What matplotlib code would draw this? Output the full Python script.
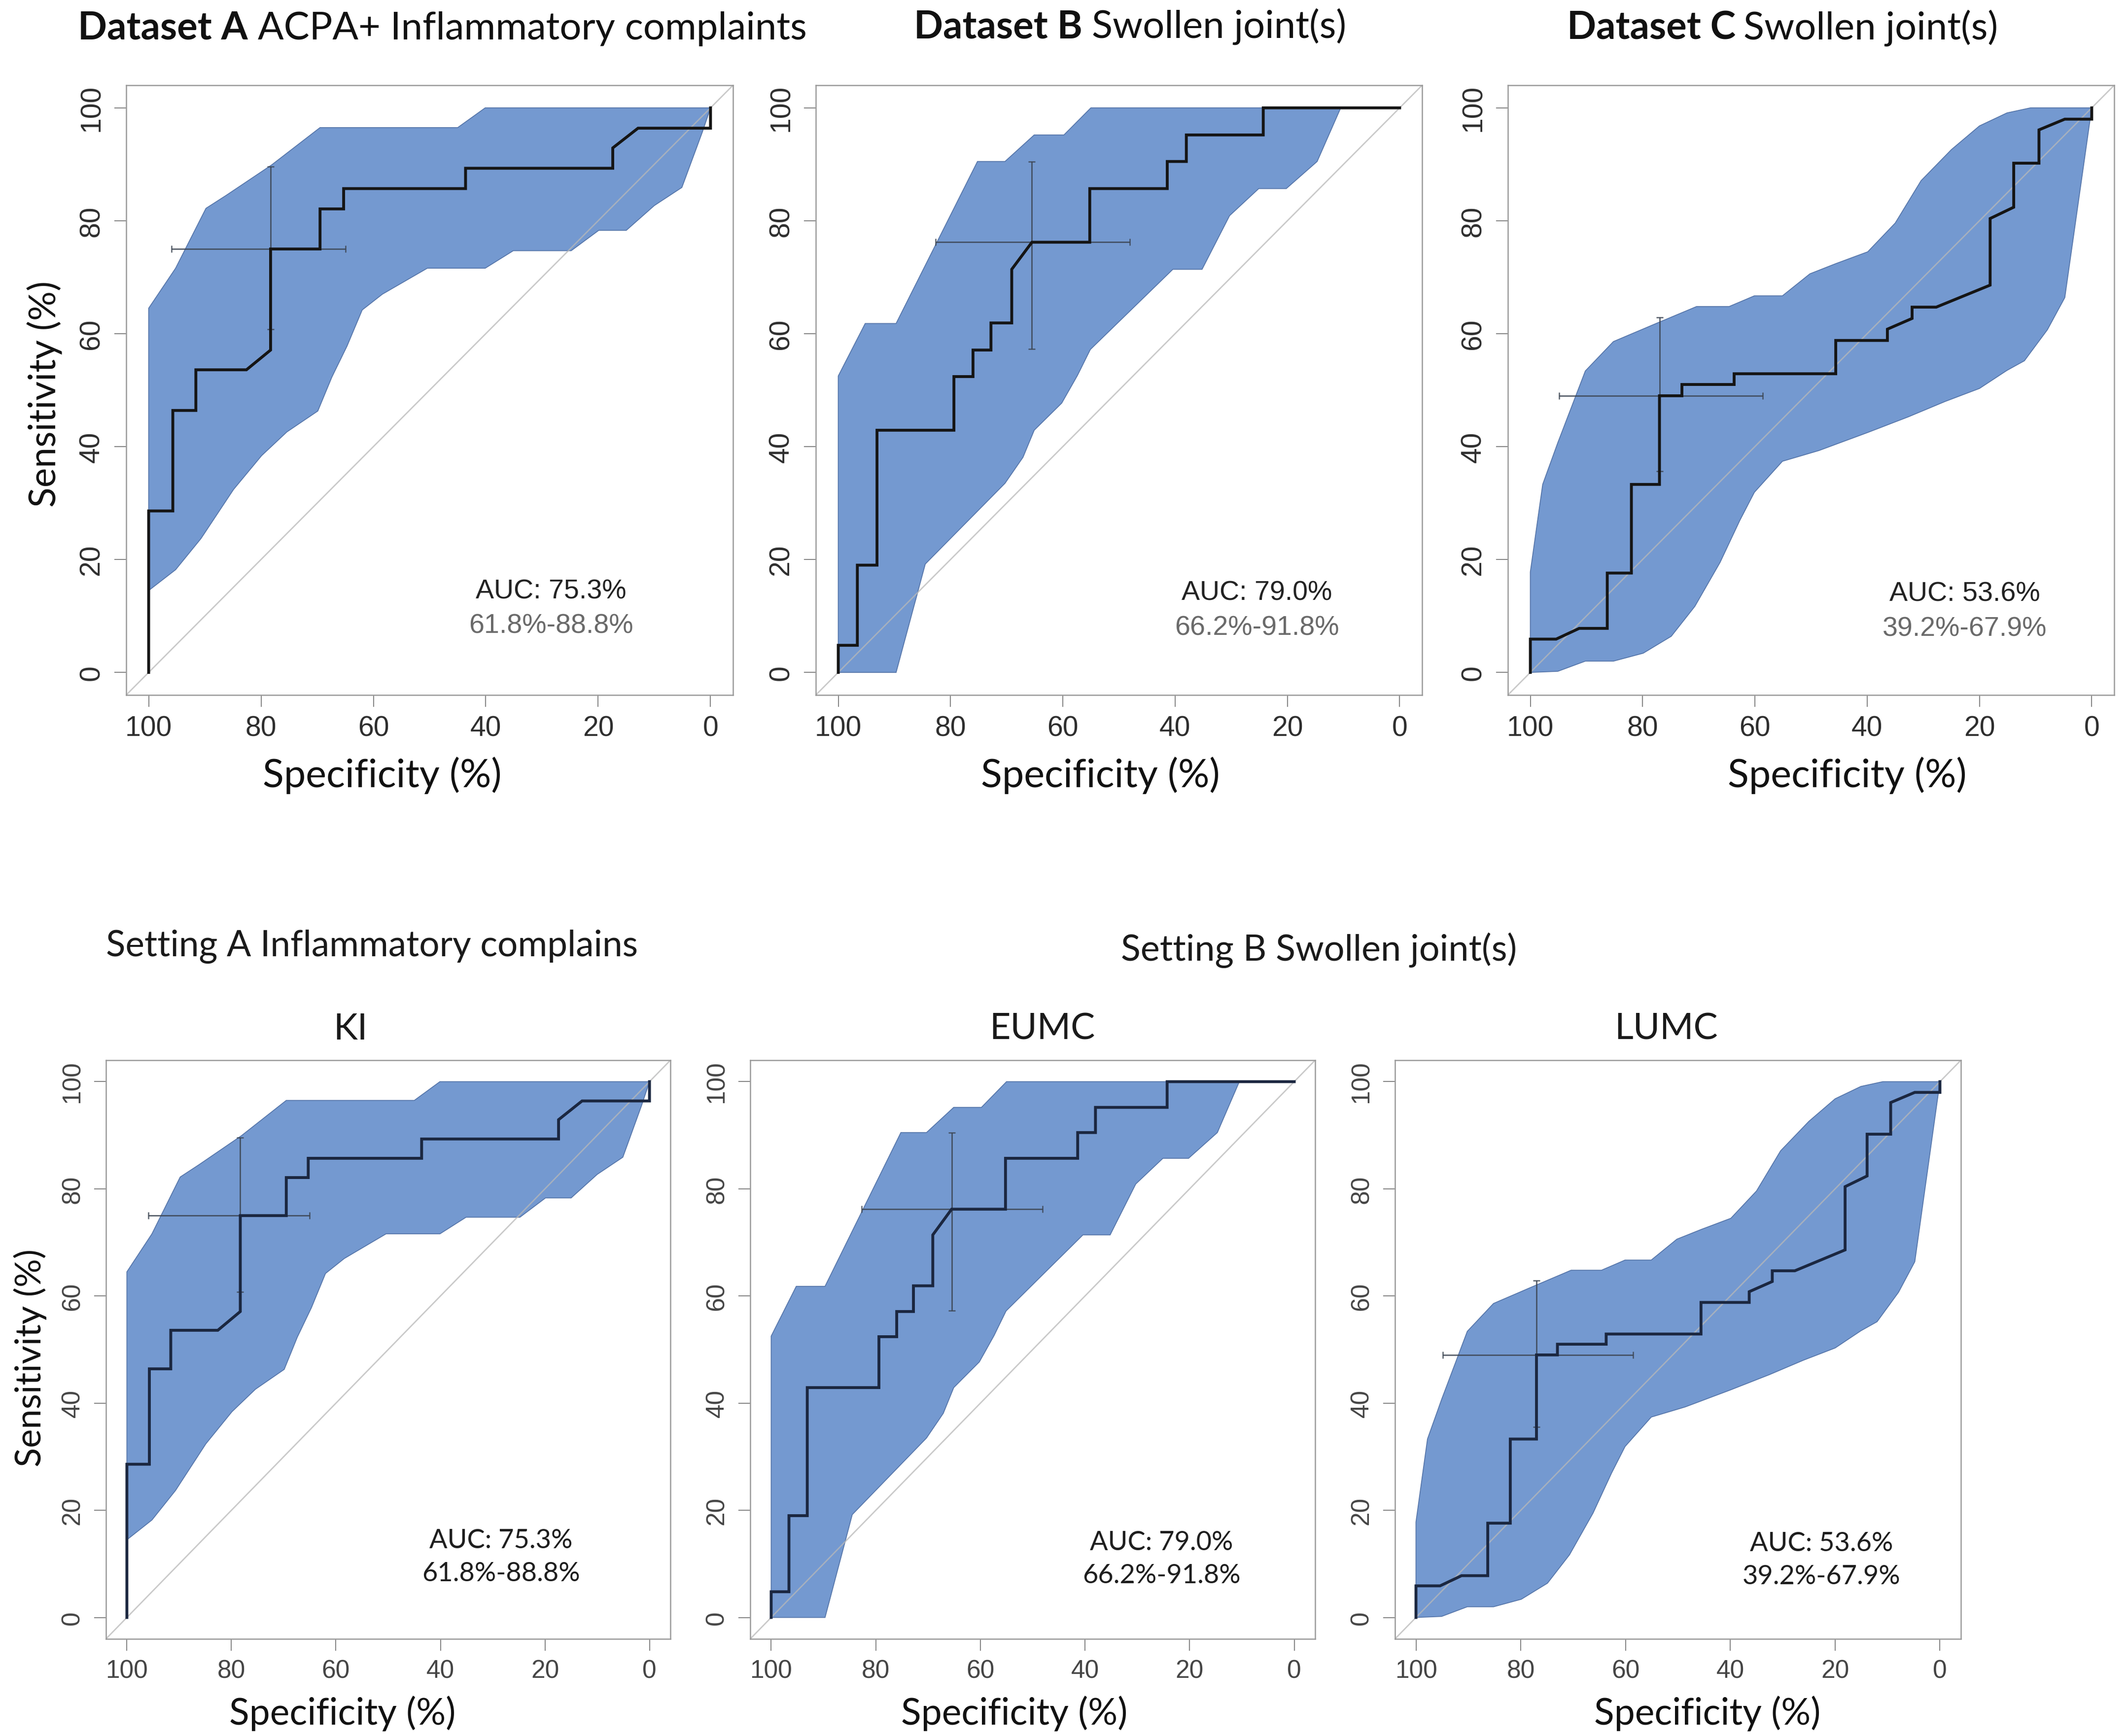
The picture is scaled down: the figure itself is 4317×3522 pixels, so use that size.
import numpy as np
import matplotlib
matplotlib.use("Agg")
from matplotlib import pyplot as plt

# ---- data ------------------------------------------------------------------

# Dataset A / KI : ROC step curve (specificity %, sensitivity %)
A_ROC_SPEC = [100, 100, 95.7, 95.7, 91.6, 91.6, 82.6, 78.3, 78.3, 69.5, 69.5, 65.3, 65.3,
              43.6, 43.6, 17.4, 17.4, 12.9, 0, 0]
A_ROC_SENS = [0, 28.6, 28.6, 46.4, 46.4, 53.6, 53.6, 57.1, 75.0, 75.0, 82.1, 82.1, 85.7,
              85.7, 89.3, 89.3, 92.9, 96.4, 96.4, 100]
# confidence band, upper and lower edge
A_UP_SPEC = [100, 95.2, 89.8, 86.2, 78.1, 69.5, 45.0, 40.1, 0]
A_UP_SENS = [64.5, 71.6, 82.2, 84.5, 89.9, 96.5, 96.5, 100, 100]
A_LO_SPEC = [100, 95.2, 90.7, 84.9, 79.9, 75.4, 69.9, 67.4, 64.7, 62.0, 58.4, 50.4, 40.1,
             35.1, 24.8, 19.9, 15.0, 10.0, 5.1, 1.5, 0]
A_LO_SENS = [14.5, 18.2, 23.7, 32.4, 38.4, 42.6, 46.3, 52.3, 57.8, 64.2, 67.0, 71.6, 71.6,
             74.7, 74.7, 78.3, 78.3, 82.7, 85.9, 95.6, 100]
# threshold cross: spec, sens, spec low/high, sens low/high
A_CROSS = [78.3, 75.0, 60.7, 91.6, 60.8, 89.6]

# Dataset B / EUMC
B_ROC_SPEC = [100, 100, 96.6, 96.6, 93.1, 93.1, 79.4, 79.4, 76.0, 76.0, 72.8, 72.8, 69.1,
              69.1, 65.5, 55.2, 55.2, 41.4, 41.4, 38.0, 38.0, 24.3, 24.3, 0]
B_ROC_SENS = [0, 4.8, 4.8, 19.0, 19.0, 42.9, 42.9, 52.4, 52.4, 57.1, 57.1, 61.9, 61.9,
              71.4, 76.2, 76.2, 85.7, 85.7, 90.5, 90.5, 95.2, 95.2, 100, 100]
B_UP_SPEC = [100, 95.2, 89.7, 75.2, 70.3, 65.1, 59.8, 55.0, 10.5]
B_UP_SENS = [52.5, 61.8, 61.8, 90.5, 90.5, 95.2, 95.2, 100, 100]
B_LO_SPEC = [100, 89.7, 84.5, 70.3, 67.1, 65.1, 60.2, 57.4, 55.1, 40.4, 35.2, 30.3, 25.1,
             20.2, 14.7, 10.5]
B_LO_SENS = [0, 0, 19.2, 33.5, 38.1, 42.9, 47.7, 52.6, 57.2, 71.4, 71.4, 80.9, 85.7,
             85.7, 90.5, 100]
B_CROSS = [65.5, 76.2, 48.3, 82.9, 57.3, 90.5]

# Dataset C / LUMC
C_ROC_SPEC = [100, 100, 95.4, 91.3, 86.3, 86.3, 82.0, 82.0, 77.0, 77.0, 73.0, 73.0, 63.7,
              63.7, 45.6, 45.6, 36.4, 36.4, 32.0, 32.0, 27.7, 18.1, 18.1, 13.9, 13.9, 9.4,
              9.4, 4.8, 0, 0]
C_ROC_SENS = [0, 5.9, 5.9, 7.8, 7.8, 17.6, 17.6, 33.3, 33.3, 49.0, 49.0, 51.0, 51.0,
              52.9, 52.9, 58.8, 58.8, 60.8, 62.7, 64.7, 64.7, 68.6, 80.4, 82.4, 90.2, 90.2,
              96.1, 98.0, 98.0, 100]
C_UP_SPEC = [100, 97.8, 95.1, 90.2, 85.2, 77.6, 70.4, 64.6, 60.1, 55.1, 50.2, 45.6, 39.9,
             35.0, 30.4, 25.0, 20.0, 15.1, 10.9, 0]
C_UP_SENS = [17.8, 33.3, 40.7, 53.4, 58.6, 61.8, 64.8, 64.8, 66.7, 66.7, 70.6, 72.4, 74.5,
             79.6, 87.1, 92.6, 96.8, 99.1, 100, 100]
C_LO_SPEC = [100, 95.1, 90.2, 85.2, 79.9, 74.9, 70.7, 66.2, 62.7, 60.1, 55.1, 48.6, 39.9,
             32.6, 26.1, 20.0, 15.1, 12.0, 7.9, 4.8, 0]
C_LO_SENS = [0, 0.2, 2.0, 2.0, 3.4, 6.4, 11.7, 19.5, 26.9, 31.9, 37.4, 39.3, 42.5,
             45.3, 48.0, 50.3, 53.5, 55.2, 60.7, 66.4, 100]
C_CROSS = [77.0, 49.0, 59.1, 95.4, 35.6, 62.9]

AUC_TEXT = ["AUC: 75.3%", "AUC: 79.0%", "AUC: 53.6%"]
CI_TEXT = ["61.8%-88.8%", "66.2%-91.8%", "39.2%-67.9%"]

TICKS = [0, 20, 40, 60, 80, 100]

TOP_TITLES = [("Dataset A", "ACPA+ Inflammatory complaints"),
              ("Dataset B", "Swollen joint(s)"),
              ("Dataset C", "Swollen joint(s)")]
BOTTOM_TITLES = ["KI", "EUMC", "LUMC"]
SETTING_TITLES = ["Setting A Inflammatory complains", "Setting B Swollen joint(s)"]

datasets = [
    dict(roc=(A_ROC_SPEC, A_ROC_SENS), up=(A_UP_SPEC, A_UP_SENS), lo=(A_LO_SPEC, A_LO_SENS), cross=A_CROSS),
    dict(roc=(B_ROC_SPEC, B_ROC_SENS), up=(B_UP_SPEC, B_UP_SENS), lo=(B_LO_SPEC, B_LO_SENS), cross=B_CROSS),
    dict(roc=(C_ROC_SPEC, C_ROC_SENS), up=(C_UP_SPEC, C_UP_SENS), lo=(C_LO_SPEC, C_LO_SENS), cross=C_CROSS),
]

# ---- layout (pixels of the 4317x3523 picture) -----------------------------

W, H = 4317, 3523
DPI = 100

plt.rcParams['font.family'] = ['Lato', 'DejaVu Sans']

fig = plt.figure(figsize=(W / DPI, H / DPI), dpi=DPI)
fig.patch.set_facecolor("white")


def px_axes(left, top, right, bottom):
    return fig.add_axes([left / W, 1 - bottom / H, (right - left) / W, (bottom - top) / H])


def px_text(x, y, s, **kw):
    return fig.text(x / W, 1 - y / H, s, **kw)


# (left, top, right, bottom)
top_boxes = [(256, 174, 1487, 1411), (1655, 174, 2885, 1411), (3059, 174, 4289, 1411)]
bottom_boxes = [(215, 2152, 1360, 3326), (1522, 2152, 2668, 3326), (2830, 2152, 3978, 3326)]

# AUC text anchor (specificity, sensitivity) per dataset
auc_pos = [(28.4, 14.4, 8.3), (25.4, 14.1, 7.9), (22.6, 13.9, 7.7)]

BAND_FACE = "#7499d0"
BAND_EDGE = "#5676aa"


def draw_panel(ax, d, k, row):
    ax.set_xlim(104, -4)
    ax.set_ylim(-4, 104)

    band_x = np.concatenate([d["up"][0], d["lo"][0][::-1]])
    band_y = np.concatenate([d["up"][1], d["lo"][1][::-1]])
    ax.fill(band_x, band_y, facecolor=BAND_FACE, edgecolor=BAND_EDGE, lw=1.3, zorder=1)

    # chance line
    ax.axline((100, 0), (0, 100), color="#b8b8b8", lw=2.0, alpha=0.75, zorder=2)

    sx, sy, sxlo, sxhi, sylo, syhi = d["cross"]
    ax.errorbar([sx], [sy], xerr=[[sxhi - sx], [sx - sxlo]], yerr=[[sy - sylo], [syhi - sy]],
                fmt="none", ecolor="#3c4552", elinewidth=2.0, capsize=5, capthick=1.8,
                alpha=0.85, zorder=3)

    line_col = "#151515" if row == 0 else "#1b2740"
    ax.plot(d["roc"][0], d["roc"][1], color=line_col, lw=4.2, zorder=4,
            solid_joinstyle="miter")

    ax.set_xticks(TICKS)
    ax.set_yticks(TICKS)
    for sp in ax.spines.values():
        sp.set_color("#9a9a9a")
        sp.set_linewidth(1.8)
    tick_col = "#2e2e2e" if row == 0 else "#454545"
    tick_size = 41 if row == 0 else 37
    ax.tick_params(axis="both", length=17, width=1.3, color="#7a7a7a",
                   labelcolor=tick_col)
    ax.tick_params(axis="x", pad=12)
    ax.tick_params(axis="y", pad=14, labelrotation=90)
    for lab in ax.get_xticklabels() + ax.get_yticklabels():
        lab.set_family(["Liberation Sans", "DejaVu Sans"])
        lab.set_fontsize(tick_size)
    for lab in ax.get_yticklabels():
        lab.set_va("center")

    x0, y1, y2 = auc_pos[k]
    if row == 0:
        ax.text(x0, y1, AUC_TEXT[k], ha="center", va="center", fontsize=40,
                family=["Liberation Sans", "DejaVu Sans"], color="#222222", zorder=5)
        ax.text(x0, y2, CI_TEXT[k], ha="center", va="center", fontsize=40,
                family=["Liberation Sans", "DejaVu Sans"], color="#6a6a6a", zorder=5)
    else:
        ax.text(x0, y1, AUC_TEXT[k], ha="center", va="center", fontsize=39,
                color="#1e1e1e", zorder=5)
        ax.text(x0, y2, CI_TEXT[k], ha="center", va="center", fontsize=39,
                color="#1e1e1e", zorder=5)


for k, box in enumerate(top_boxes):
    draw_panel(px_axes(*box), datasets[k], k, 0)
for k, box in enumerate(bottom_boxes):
    draw_panel(px_axes(*box), datasets[k], k, 1)

# ---- texts -----------------------------------------------------------------

TXT = "#111111"

# top titles: bold part ends at split[0], regular part starts at split[1]
title_splits = [(503, 523, 80), (2196, 2215, 77), (3521, 3537, 80)]
for (bold, rest), (xb, xr, yb) in zip(TOP_TITLES, title_splits):
    px_text(xb, yb, bold, ha="right", va="baseline", fontsize=56, weight="bold", color=TXT)
    px_text(xr, yb, rest, ha="left", va="baseline", fontsize=56, color=TXT)

# x labels
for xc in [775, 2232, 3747]:
    px_text(xc, 1597, "Specificity (%)", ha="center", va="baseline", fontsize=57, color=TXT)
for xc in [695, 2058, 3464]:
    px_text(xc, 3500, "Specificity (%)", ha="center", va="baseline", fontsize=54, color=TXT)

# y labels
px_text(91, 799, "Sensitivity (%)", ha="center", va="center", rotation=90, fontsize=54, color=TXT)
px_text(61, 2755, "Sensitivity (%)", ha="center", va="center", rotation=90, fontsize=52, color=TXT)

# setting headers and centre names
px_text(215, 1940, SETTING_TITLES[0], ha="left", va="baseline", fontsize=52.5, color="#1a1a1a")
px_text(2274, 1949, SETTING_TITLES[1], ha="left", va="baseline", fontsize=53, color="#1a1a1a")
for name, xc in zip(BOTTOM_TITLES, [711, 2114, 3380]):
    px_text(xc, 2109, name, ha="center", va="baseline", fontsize=53, color="#1a1a1a")

fig.savefig("out.png", dpi=DPI, facecolor="white")
